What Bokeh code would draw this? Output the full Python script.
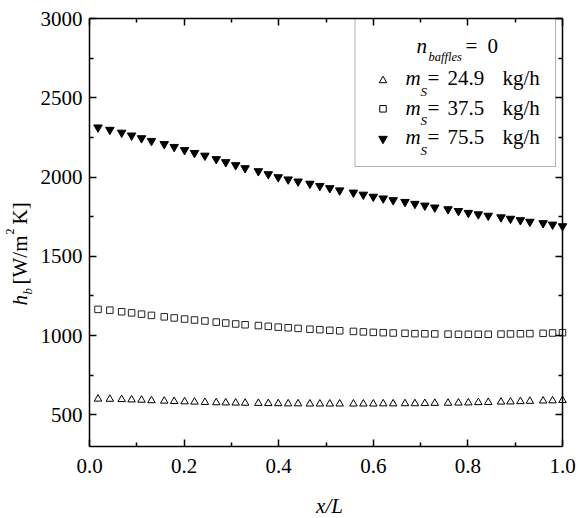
import math
from bokeh.plotting import figure
from bokeh.models import (LinearAxis, Label, BoxAnnotation, Range1d, FixedTicker,
                          NumeralTickFormatter, BasicTickFormatter)
from bokeh.embed import file_html
from bokeh.resources import INLINE

# ---------------- data ----------------
x_over_L = [0.018, 0.043, 0.068, 0.089, 0.110, 0.131, 0.158, 0.179, 0.201, 0.222,
            0.244, 0.268, 0.288, 0.309, 0.329, 0.357, 0.378, 0.399, 0.420, 0.441,
            0.466, 0.487, 0.508, 0.529, 0.558, 0.579, 0.600, 0.621, 0.642, 0.667,
            0.688, 0.709, 0.730, 0.758, 0.780, 0.801, 0.822, 0.843, 0.870, 0.890,
            0.911, 0.931, 0.959, 0.979, 1.000]

h_ms_24_9 = [600, 599, 597, 595, 593, 590, 587, 585, 583, 581,
             579, 577, 576, 575, 574, 573, 572, 571, 570, 570,
             569, 569, 569, 569, 569, 569, 569, 570, 570, 571,
             571, 572, 573, 574, 575, 576, 578, 579, 581, 582,
             584, 586, 588, 589, 591]

h_ms_37_5 = [1165, 1160, 1150, 1143, 1135, 1127, 1118, 1111, 1104, 1098,
             1092, 1085, 1079, 1073, 1068, 1063, 1058, 1053, 1049, 1045,
             1040, 1037, 1033, 1030, 1026, 1023, 1020, 1018, 1016, 1014,
             1012, 1011, 1010, 1009, 1008, 1008, 1008, 1008, 1009, 1010,
             1011, 1012, 1014, 1016, 1018]

h_ms_75_5 = [2313, 2298, 2280, 2262, 2245, 2228, 2208, 2190, 2170, 2152,
             2135, 2113, 2094, 2075, 2056, 2037, 2018, 1999, 1985, 1972,
             1958, 1944, 1930, 1916, 1902, 1889, 1876, 1865, 1854, 1843,
             1831, 1820, 1808, 1797, 1786, 1774, 1765, 1756, 1746, 1737,
             1728, 1718, 1709, 1700, 1690]

x_major_ticks = [0.0, 0.2, 0.4, 0.6, 0.8, 1.0]
x_minor_ticks = [0.1, 0.3, 0.5, 0.7, 0.9]
y_major_ticks = [500, 1000, 1500, 2000, 2500, 3000]
y_minor_ticks = [750, 1250, 1750, 2250, 2750]

legend_values = ["24.9", "37.5", "75.5"]
legend_markers = ["triangle", "square", "inverted_triangle"]

# ---------------- layout ----------------
W, H = 578, 518
# plot box (in canvas pixels) that the axes enclose
BOX_L, BOX_R, BOX_T, BOX_B = 89, 562, 18, 446
XMIN, XMAX, YMIN, YMAX = 0.0, 1.0, 300, 3000
SX = (XMAX - XMIN) / (BOX_R - BOX_L)
SY = (YMAX - YMIN) / (BOX_B - BOX_T)
FONT = "'Liberation Serif', 'Times New Roman', Times, serif"
BASE_SHIFT = 0.335  # label anchor -> baseline offset, in em


def X(cx):
    """canvas pixel -> data x (for annotation placement)"""
    return XMIN + (cx - BOX_L) * SX


def Y(cy):
    """canvas pixel -> data y (for annotation placement)"""
    return YMAX - (cy - BOX_T) * SY


# the frame covers the whole canvas so that titles outside the box stay visible
p = figure(width=W, height=H, output_backend="svg", toolbar_location=None,
           x_range=Range1d(X(0), X(W)), y_range=Range1d(Y(H), Y(0)),
           min_border=0, min_border_left=0, min_border_right=0,
           min_border_top=0, min_border_bottom=0,
           x_axis_type=None, y_axis_type=None)
p.xgrid.visible = False
p.ygrid.visible = False
p.outline_line_color = None
p.background_fill_color = "white"
p.border_fill_color = "white"


def style_axis(ax, show_labels):
    ax.axis_line_color = "black"
    ax.axis_line_width = 1.5
    ax.major_tick_line_color = "black"
    ax.minor_tick_line_color = "black"
    ax.major_tick_line_width = 1.5
    ax.minor_tick_line_width = 1.5
    ax.major_tick_in = 7
    ax.major_tick_out = 0
    ax.minor_tick_in = 4
    ax.minor_tick_out = 0
    ax.major_label_text_font = FONT
    ax.major_label_text_font_size = "21px"
    if show_labels:
        ax.major_label_text_color = "black"
    else:
        ax.major_label_text_color = None
        ax.major_label_standoff = 0


xb = LinearAxis(ticker=FixedTicker(ticks=x_major_ticks, minor_ticks=x_minor_ticks),
                formatter=NumeralTickFormatter(format="0.0"),
                fixed_location=YMIN, bounds=(XMIN, XMAX))
style_axis(xb, True)
xb.major_label_standoff = 12
p.add_layout(xb, "below")

xt = LinearAxis(ticker=FixedTicker(ticks=x_major_ticks, minor_ticks=x_minor_ticks),
                fixed_location=YMAX, bounds=(XMIN, XMAX))
style_axis(xt, False)
p.add_layout(xt, "above")

yl = LinearAxis(ticker=FixedTicker(ticks=y_major_ticks, minor_ticks=y_minor_ticks),
                formatter=BasicTickFormatter(use_scientific=False),
                fixed_location=XMIN, bounds=(YMIN, YMAX))
style_axis(yl, True)
yl.major_label_standoff = 7
p.add_layout(yl, "left")

yr = LinearAxis(ticker=FixedTicker(ticks=y_major_ticks, minor_ticks=y_minor_ticks),
                fixed_location=XMAX, bounds=(YMIN, YMAX))
style_axis(yr, False)
p.add_layout(yr, "right")

# ---------------- data marks ----------------
p.scatter(x_over_L, h_ms_24_9, marker="triangle", size=7.5, fill_color=None,
          line_color="black", line_width=1)
p.scatter(x_over_L, h_ms_37_5, marker="square", size=6.5, fill_color=None,
          line_color="#222222", line_width=1)
p.scatter(x_over_L, h_ms_75_5, marker="inverted_triangle", size=8.5,
          fill_color="black", line_color="black", line_width=1)


def label(cx, cy, text, size=21, style="normal", rotated=False, align="left"):
    """cx, cy: start of the text's baseline, in canvas pixels"""
    shift = BASE_SHIFT * size
    if rotated:
        lx, ly, angle = X(cx - shift), Y(cy), math.pi / 2
    else:
        lx, ly, angle = X(cx), Y(cy - shift), 0.0
    p.add_layout(Label(x=lx, y=ly, text=text,
                       text_font=FONT, text_font_size=f"{size}px",
                       text_font_style=style, text_color="black",
                       text_align=align, text_baseline="alphabetic", angle=angle))


# ---------------- legend ----------------
p.add_layout(BoxAnnotation(left=X(354.5), right=X(555), top=Y(18), bottom=Y(166),
                           fill_color=None, line_color="black", line_width=1))
label(416, 53, "n", style="italic")
label(428, 61, "baffles", size=12.5, style="italic")
label(465, 53, "=")
label(487, 53, "0")

row_marker_y = [80, 108.3, 138.3]
row_base_y = [85, 114.5, 144]
p.scatter([X(382.5)] * 3, [Y(v) for v in row_marker_y], marker=legend_markers,
          size=[7.5, 6.5, 8.5], fill_color=[None, None, "black"],
          line_color="black", line_width=1)
for val, by in zip(legend_values, row_base_y):
    label(405, by, "m", style="italic")
    label(420, by + 10, "S", size=13, style="italic")
    label(427, by, "=")
    label(447, by, val)
    label(502, by, "kg/h")

# ---------------- axis titles ----------------
label(329, 513, "x/L", style="italic", align="center")
label(27, 305, "h", style="italic", rotated=True)
label(31, 294, "b", size=13, style="italic", rotated=True)
label(27, 284, "[W/m", rotated=True)
label(14, 234, "2", size=12, rotated=True)
label(27, 224, "K]", rotated=True)

open("out.html", "w").write(file_html(p, INLINE))
